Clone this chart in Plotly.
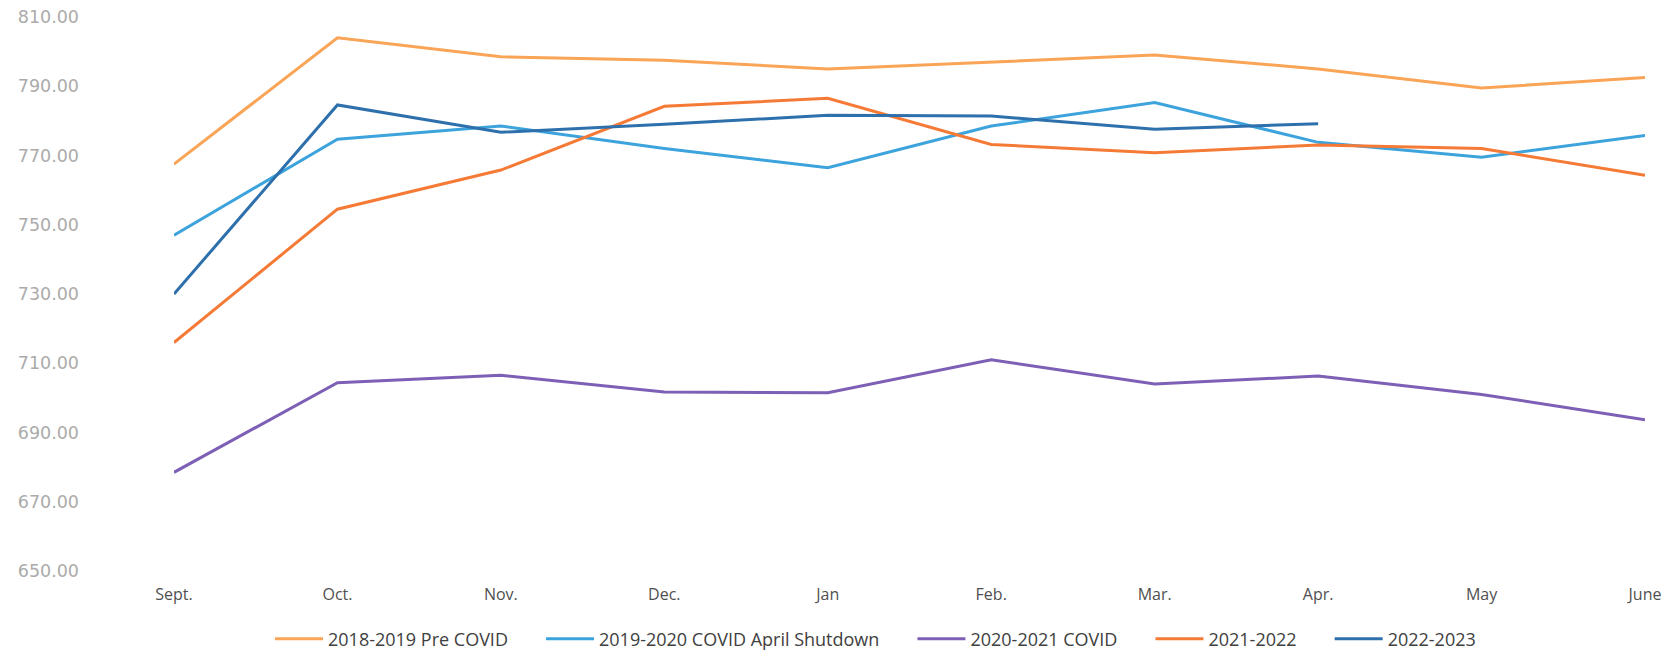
import plotly.graph_objects as go

months = ["Sept.", "Oct.", "Nov.", "Dec.", "Jan", "Feb.", "Mar.", "Apr.", "May", "June"]

s_2018_2019 = [767.5, 804.0, 798.5, 797.5, 795.0, 797.0, 799.0, 795.0, 789.5, 792.5]
s_2019_2020 = [747.0, 774.7, 778.5, 772.0, 766.5, 778.5, 785.3, 773.8, 769.5, 775.8]
s_2020_2021 = [678.5, 704.4, 706.5, 701.7, 701.5, 711.0, 704.0, 706.3, 701.0, 693.7]
s_2021_2022 = [716.0, 754.5, 765.8, 784.2, 786.5, 773.2, 770.8, 773.0, 772.0, 764.3]
s_2022_2023 = [730.0, 784.6, 776.7, 779.0, 781.6, 781.4, 777.6, 779.2, None, None]

series_names = ["2018-2019 Pre COVID", "2019-2020 COVID April Shutdown", "2020-2021 COVID",
                "2021-2022", "2022-2023"]
series_values = [s_2018_2019, s_2019_2020, s_2020_2021, s_2021_2022, s_2022_2023]
colors = ["#F9A457", "#3DA3DC", "#7D60B6", "#F57A36", "#2E70AC"]

y_ticks = [650, 670, 690, 710, 730, 750, 770, 790, 810]

PAD = "\u00a0" * 6  # spacing between legend entries

fig = go.Figure()
for i, (name, vals, col) in enumerate(zip(series_names, series_values, colors)):
    label = name + (PAD if i < len(series_names) - 1 else "")
    fig.add_trace(go.Scatter(
        x=list(range(len(months))), y=vals, name=label, mode="lines",
        line=dict(color=col, width=3), connectgaps=False,
    ))

fig.update_layout(
    width=1678, height=652,
    margin=dict(l=166, r=41, t=9, b=89, autoexpand=False),
    paper_bgcolor="white", plot_bgcolor="white",
    font=dict(family="Open Sans, Liberation Sans, sans-serif", color="#404040"),
    showlegend=True,
    legend=dict(orientation="h", xref="container", x=0.517, xanchor="center",
                yref="container", y=0.032, yanchor="middle",
                font=dict(size=18, color="#404040"), itemwidth=48,
                tracegroupgap=0, traceorder="normal"),
    xaxis=dict(
        tickmode="array", tickvals=list(range(len(months))), ticktext=months,
        range=[0, len(months) - 1], showgrid=False, zeroline=False, showline=False,
        ticks="", tickfont=dict(size=16, color="#505050"), ticklabelstandoff=12,
        automargin=False, ticklabeloverflow="allow",
    ),
    yaxis=dict(
        range=[650, 810], tickmode="array", tickvals=y_ticks,
        ticktext=[f"{v:.2f}" for v in y_ticks],
        showgrid=False, zeroline=False, showline=False, ticks="",
        tickfont=dict(family="DejaVu Sans, sans-serif", size=17.5, color="#ABABAB"),
        ticklabelstandoff=94, automargin=False, ticklabeloverflow="allow",
    ),
)

fig.write_html("out.html")
